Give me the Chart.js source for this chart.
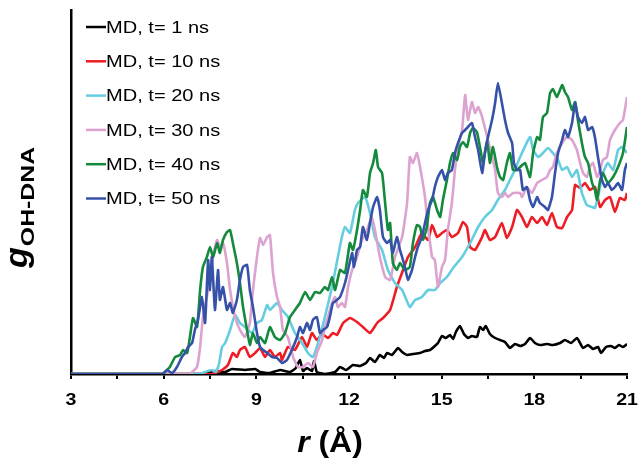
<!DOCTYPE html>
<html>
<head>
<meta charset="utf-8">
<script src="https://cdn.jsdelivr.net/npm/chart.js@4.4.1/dist/chart.umd.min.js"></script>
<style>
  html, body { margin: 0; padding: 0; background: #fff; }
  #chart { display: block; }
</style>
</head>
<body>
<canvas id="chart" width="640" height="458"></canvas>
<script>
// g(r) traces, [r (Å), g (arbitrary units)]
const md1ns = [[3,0],[7.27,0],[7.66,3],[7.99,2],[8.21,5],[8.63,4],[8.96,5],[9.12,2],[9.44,1],[9.77,4],[10.09,2],
  [10.28,6],[10.41,14],[10.51,3],[10.64,6],[10.8,3],[10.87,13],[10.96,2],[11.22,0],[11.55,2],[11.71,7],[11.9,4],
  [12.13,9],[12.36,8],[12.55,11],[12.68,16],[12.84,12],[13.0,19],[13.13,16],[13.23,21],[13.39,19],[13.59,26],
  [13.72,22],[13.88,19],[14.07,20],[14.3,21],[14.46,23],[14.62,24],[14.78,28],[14.88,31],[15.01,38],[15.14,36],
  [15.27,39],[15.37,35],[15.46,42],[15.59,48],[15.72,40],[15.85,36],[15.98,38],[16.14,37],[16.24,47],[16.34,44],
  [16.43,48],[16.56,40],[16.73,36],[16.89,34],[17.05,32],[17.21,26],[17.37,30],[17.54,28],[17.7,30],[17.86,36],
  [18.02,31],[18.18,29],[18.41,30],[18.6,29],[18.83,31],[18.99,34],[19.19,31],[19.38,36],[19.48,31],[19.58,26],
  [19.74,29],[19.9,25],[20.06,27],[20.16,21],[20.32,27],[20.48,28],[20.61,26],[20.74,29],[20.87,27],[21.0,30]];

const md10ns = [[3,0],[7.6,0],[7.66,1],[7.89,4],[8.08,9],[8.24,21],[8.37,17],[8.47,24],[8.63,27],[8.79,17],[8.96,21],
  [9.12,26],[9.28,17],[9.44,24],[9.6,17],[9.77,21],[9.83,14],[10.02,27],[10.25,24],[10.48,37],[10.64,27],[10.8,41],
  [10.96,34],[11.13,40],[11.32,36],[11.48,41],[11.61,39],[11.81,51],[12.03,56],[12.26,52],[12.45,47],[12.68,41],
  [12.91,51],[13.1,56],[13.33,64],[13.55,87],[13.75,104],[13.91,117],[14.14,127],[14.36,141],[14.56,134],[14.69,149],
  [14.85,137],[15.01,141],[15.17,144],[15.33,137],[15.53,141],[15.69,152],[15.82,147],[15.92,127],[16.08,124],
  [16.31,137],[16.4,144],[16.56,134],[16.73,137],[16.95,151],[17.11,136],[17.28,147],[17.44,164],[17.6,157],
  [17.76,147],[17.92,157],[18.09,151],[18.25,157],[18.41,149],[18.57,161],[18.73,147],[18.9,146],[19.06,157],
  [19.22,164],[19.32,189],[19.48,186],[19.64,191],[19.8,184],[19.96,187],[20.13,167],[20.29,174],[20.45,177],
  [20.61,162],[20.77,176],[20.93,174],[21.0,181]];

const md20ns = [[3,0],[7.2,0],[7.34,2],[7.56,4],[7.69,2],[7.79,10],[7.89,27],[7.99,31],[8.15,44],[8.31,59],[8.47,51],
  [8.63,47],[8.86,41],[9.02,51],[9.18,54],[9.35,69],[9.44,64],[9.67,71],[9.83,64],[10.02,57],[10.25,41],[10.48,31],
  [10.67,21],[10.83,17],[11.0,31],[11.22,57],[11.45,87],[11.64,117],[11.77,137],[11.87,147],[12.03,141],[12.19,164],
  [12.29,171],[12.52,177],[12.68,161],[12.84,137],[13.07,124],[13.26,104],[13.49,91],[13.72,84],[13.97,67],
  [14.14,74],[14.36,77],[14.56,84],[14.78,84],[14.95,91],[15.17,97],[15.37,106],[15.66,117],[15.92,131],[16.18,147],
  [16.4,157],[16.63,164],[16.82,174],[17.05,184],[17.21,194],[17.37,204],[17.54,217],[17.86,237],[17.96,224],
  [18.12,217],[18.28,221],[18.44,226],[18.6,221],[18.77,214],[18.9,204],[19.06,207],[19.22,197],[19.38,204],
  [19.54,181],[19.7,169],[19.87,167],[19.96,166],[20.06,177],[20.22,201],[20.38,211],[20.55,204],[20.71,224],
  [20.84,227],[21.0,221]];

const md30ns = [[3,0],[6.85,0],[6.92,2],[7.08,7],[7.18,27],[7.27,57],[7.44,84],[7.6,117],[7.73,134],[7.82,127],
  [7.92,131],[8.05,111],[8.15,84],[8.31,57],[8.47,44],[8.63,37],[8.79,51],[8.89,84],[9.02,117],[9.12,136],[9.22,129],
  [9.35,137],[9.44,139],[9.54,101],[9.67,77],[9.77,67],[9.86,44],[10.02,37],[10.19,17],[10.35,7],[10.51,7],
  [10.67,11],[10.83,7],[10.96,21],[11.13,34],[11.22,47],[11.32,57],[11.45,71],[11.55,77],[11.64,67],[11.77,71],
  [11.87,67],[11.97,87],[12.1,104],[12.26,117],[12.42,134],[12.58,144],[12.74,157],[12.84,144],[13.0,117],[13.17,97],
  [13.33,94],[13.49,117],[13.72,137],[13.88,171],[13.97,217],[14.07,211],[14.2,221],[14.3,207],[14.46,177],
  [14.56,147],[14.69,117],[14.78,114],[14.88,87],[15.01,107],[15.11,114],[15.2,144],[15.33,171],[15.43,204],
  [15.53,227],[15.66,244],[15.76,279],[15.85,254],[15.98,272],[16.08,261],[16.18,267],[16.31,257],[16.4,246],
  [16.5,234],[16.63,217],[16.73,204],[16.82,181],[16.95,177],[17.05,181],[17.15,177],[17.31,181],[17.54,181],
  [17.6,177],[17.76,187],[17.92,181],[18.09,191],[18.25,194],[18.41,197],[18.51,204],[18.6,207],[18.73,221],
  [18.9,231],[19.06,237],[19.22,234],[19.38,224],[19.48,211],[19.58,201],[19.7,197],[19.8,207],[19.9,211],
  [20.03,197],[20.13,204],[20.22,214],[20.35,217],[20.45,234],[20.61,244],[20.77,251],[20.87,254],[21.0,277]];

const md40ns = [[3,0],[5.98,0],[6.04,2],[6.2,7],[6.37,17],[6.53,19],[6.63,24],[6.76,21],[6.85,37],[6.95,56],[7.08,47],
  [7.18,84],[7.27,107],[7.4,117],[7.5,127],[7.6,117],[7.73,131],[7.82,121],[7.92,134],[8.05,142],[8.15,144],
  [8.24,131],[8.37,111],[8.47,91],[8.57,67],[8.7,44],[8.79,29],[8.89,41],[9.02,31],[9.12,37],[9.28,31],[9.44,47],
  [9.6,37],[9.77,34],[9.93,41],[10.09,57],[10.25,64],[10.41,71],[10.58,82],[10.74,74],[10.9,82],[11.06,81],
  [11.22,87],[11.32,84],[11.45,97],[11.55,84],[11.71,104],[11.87,101],[12.03,131],[12.13,124],[12.26,144],
  [12.36,164],[12.45,184],[12.58,177],[12.68,201],[12.78,211],[12.87,224],[12.94,207],[13.07,201],[13.17,171],
  [13.26,144],[13.33,151],[13.42,111],[13.55,104],[13.65,111],[13.81,104],[13.97,107],[14.07,131],[14.2,149],
  [14.3,147],[14.4,134],[14.52,147],[14.62,171],[14.72,177],[14.85,164],[14.95,157],[15.04,174],[15.17,194],
  [15.27,211],[15.37,221],[15.5,214],[15.59,227],[15.69,232],[15.82,227],[15.92,241],[16.01,246],[16.14,242],
  [16.24,227],[16.34,211],[16.47,234],[16.56,211],[16.66,227],[16.79,207],[16.89,197],[16.99,194],[17.11,211],
  [17.21,221],[17.31,204],[17.44,204],[17.54,207],[17.7,211],[17.86,197],[17.96,221],[18.09,237],[18.18,234],
  [18.28,257],[18.41,261],[18.51,281],[18.6,285],[18.73,277],[18.9,289],[18.99,282],[19.09,277],[19.22,264],
  [19.32,272],[19.41,254],[19.54,231],[19.64,217],[19.74,211],[19.87,191],[19.96,184],[20.03,174],[20.13,194],
  [20.22,201],[20.38,191],[20.55,197],[20.71,207],[20.87,221],[21.0,247]];

const md50ns = [[3,0],[5.95,0],[6.11,4],[6.27,1],[6.43,7],[6.59,17],[6.69,21],[6.79,27],[6.92,31],[7.01,44],[7.11,54],
  [7.24,77],[7.34,51],[7.44,114],[7.5,84],[7.56,117],[7.66,64],[7.76,104],[7.82,74],[7.92,87],[8.05,64],[8.15,71],
  [8.24,61],[8.37,74],[8.47,94],[8.57,107],[8.7,109],[8.79,84],[8.89,67],[9.02,41],[9.12,27],[9.22,24],[9.35,21],
  [9.51,17],[9.67,16],[9.83,11],[9.99,14],[10.15,24],[10.32,37],[10.41,47],[10.51,41],[10.64,51],[10.74,44],
  [10.83,54],[10.96,57],[11.06,41],[11.16,44],[11.29,47],[11.38,57],[11.48,71],[11.61,74],[11.71,77],[11.87,91],
  [11.97,104],[12.1,121],[12.16,107],[12.26,124],[12.36,127],[12.45,147],[12.58,134],[12.68,151],[12.78,167],
  [12.91,177],[13.0,164],[13.1,137],[13.23,131],[13.33,134],[13.42,121],[13.55,137],[13.65,124],[13.72,117],
  [13.81,107],[13.91,94],[14.04,104],[14.14,117],[14.23,127],[14.36,137],[14.46,151],[14.56,164],[14.69,174],
  [14.78,187],[14.88,197],[15.01,204],[15.11,194],[15.2,201],[15.33,204],[15.43,221],[15.53,231],[15.66,241],
  [15.76,244],[15.85,247],[15.98,251],[16.08,237],[16.18,224],[16.31,201],[16.4,221],[16.5,237],[16.63,254],
  [16.73,271],[16.82,291],[16.95,271],[17.05,254],[17.15,241],[17.28,231],[17.34,211],[17.44,204],[17.54,204],
  [17.63,184],[17.76,187],[17.86,174],[17.96,167],[18.09,177],[18.18,171],[18.34,167],[18.44,164],[18.57,177],
  [18.67,201],[18.77,221],[18.9,234],[18.99,244],[19.09,237],[19.22,251],[19.32,271],[19.41,257],[19.54,251],
  [19.64,257],[19.74,244],[19.87,247],[19.96,237],[20.06,217],[20.19,194],[20.29,187],[20.38,191],[20.51,184],
  [20.61,187],[20.71,191],[20.84,184],[20.93,204],[21.0,211]];

const seriesLabels = ['MD, t= 1 ns', 'MD, t= 10 ns', 'MD, t= 20 ns', 'MD, t= 30 ns', 'MD, t= 40 ns', 'MD, t= 50 ns'];
const seriesData = [md1ns, md10ns, md20ns, md30ns, md40ns, md50ns];
const seriesColors = ['#000000', '#ee1c24', '#66cde0', '#dca3d0', '#138a3c', '#3652a8'];
const xTickValues = [3, 6, 9, 12, 15, 18, 21];

const FONT = 'Arial, "Liberation Sans", sans-serif';

// text drawn a bit wider than Arial, like the original figure
function wideText(ctx, text, x, y, sx, align) {
    ctx.save();
    ctx.translate(x, y);
    ctx.scale(sx, 1);
    ctx.textAlign = align || 'left';
    ctx.fillText(text, 0, 0);
    ctx.restore();
}

// legend drawn inside the plot, top-left
const legendPlugin = {
    id: 'insideLegend',
    afterDatasetsDraw(chart) {
        const ctx = chart.ctx;
        ctx.save();
        ctx.font = '17px ' + FONT;
        ctx.textBaseline = 'middle';
        seriesLabels.forEach((label, i) => {
            const y = 27 + i * 34.3;
            ctx.strokeStyle = seriesColors[i];
            ctx.lineWidth = 2.5;
            ctx.beginPath();
            ctx.moveTo(86, y);
            ctx.lineTo(106, y);
            ctx.stroke();
            ctx.fillStyle = '#000';
            wideText(ctx, label, 106, y + 1, 1.18);
        });
        ctx.restore();
    }
};

// x tick labels placed through the x scale
const tickLabelPlugin = {
    id: 'xTickLabels',
    afterDraw(chart) {
        const ctx = chart.ctx;
        const xs = chart.scales.x;
        ctx.save();
        ctx.fillStyle = '#000';
        ctx.font = 'bold 17px ' + FONT;
        ctx.textBaseline = 'middle';
        xTickValues.forEach(v => {
            wideText(ctx, String(v), xs.getPixelForValue(v), 400, 1.15, 'center');
        });
        ctx.restore();
    }
};

// axis titles with italic symbol and subscript
const titlesPlugin = {
    id: 'axisTitles',
    afterDraw(chart) {
        const ctx = chart.ctx;
        ctx.save();
        ctx.fillStyle = '#000';
        ctx.textBaseline = 'alphabetic';

        // x title: r (Å)
        const sx = 1.1;
        ctx.font = 'italic bold 29px ' + FONT;
        const rW = ctx.measureText('r').width * sx;
        ctx.font = 'bold 29px ' + FONT;
        const restW = ctx.measureText(' (Å)').width * sx;
        const x0 = 330 - (rW + restW) / 2;
        ctx.font = 'italic bold 29px ' + FONT;
        wideText(ctx, 'r', x0, 452, sx);
        ctx.font = 'bold 29px ' + FONT;
        wideText(ctx, ' (Å)', x0 + rW, 452, sx);

        // y title: g_OH-DNA, rotated
        ctx.translate(27, 268);
        ctx.rotate(-Math.PI / 2);
        ctx.font = 'italic bold 31px ' + FONT;
        wideText(ctx, 'g', 0, 0, 1.1);
        const gW = ctx.measureText('g').width * 1.1;
        ctx.font = 'bold 18px ' + FONT;
        wideText(ctx, 'OH-DNA', gW + 1, 7, 1.38);
        ctx.restore();
    }
};

const ctx = document.getElementById('chart').getContext('2d');
const order = [5, 4, 3, 2, 1, 0];

new Chart(ctx, {
    type: 'line',
    data: {
        datasets: seriesData.map((pts, i) => ({
            label: seriesLabels[i],
            data: pts.map(p => ({ x: p[0], y: p[1] })),
            borderColor: seriesColors[i],
            backgroundColor: seriesColors[i],
            borderWidth: 2.6,
            pointRadius: 0,
            tension: 0.15,
            fill: false,
            order: order[i]
        }))
    },
    options: {
        responsive: false,
        animation: false,
        devicePixelRatio: 1,
        layout: { padding: { left: 71, right: 13, top: 10, bottom: 0 } },
        plugins: {
            legend: { display: false },
            tooltip: { enabled: false },
            title: { display: false }
        },
        scales: {
            x: {
                type: 'linear',
                min: 3,
                max: 21,
                afterFit: s => { s.height = 84; },
                grid: {
                    drawOnChartArea: false,
                    drawTicks: true,
                    tickLength: 5,
                    color: '#000',
                    lineWidth: 2
                },
                border: { display: true, color: '#000', width: 2.5 },
                ticks: {
                    stepSize: 1.5,
                    autoSkip: false,
                    maxRotation: 0,
                    display: false
                }
            },
            y: {
                min: 0,
                max: 364,
                afterFit: s => { s.width = 0; },
                grid: { drawOnChartArea: false, drawTicks: false },
                border: { display: true, color: '#000', width: 2.5 },
                ticks: { display: false }
            }
        }
    },
    plugins: [legendPlugin, tickLabelPlugin, titlesPlugin]
});
</script>
</body>
</html>
